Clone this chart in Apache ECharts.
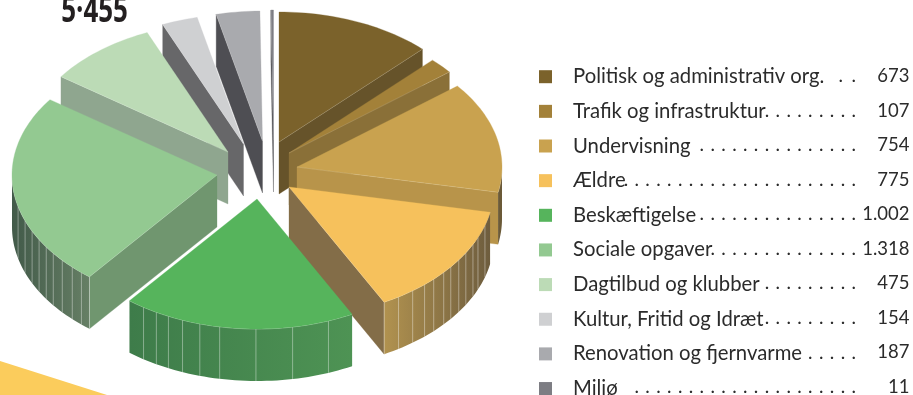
<!DOCTYPE html>
<html><head><meta charset="utf-8">
<style>html,body{margin:0;padding:0;background:#fff}#c{width:913px;height:395px}</style>
<script src="https://cdn.jsdelivr.net/npm/echarts@6/dist/echarts.min.js"></script>
</head><body><div id="c"></div>
<script>
const categories = ['Politisk og administrativ org.','Trafik og infrastruktur','Undervisning','Ældre','Beskæftigelse','Sociale opgaver','Dagtilbud og klubber','Kultur, Fritid og Idræt','Renovation og fjernvarme','Miljø'];
const values = [673,107,754,775,1002,1318,475,154,187,11];
const valueLabels = ['673','107','754','775','1.002','1.318','475','154','187','11'];
const leaderDots = [2,9,15,22,15,14,9,9,5,21];
const totalLabel = '5·455';
const topColors = ['#7b622b','#a38139','#c9a24f','#f6c15c','#56b45c','#93c991','#bcdbb6','#cfd0d2','#a9aaae','#7d7d83'];
const sideColors = ['#66532a','#8a7038','#b8944a','#836d48','#4d8f52','#70966f','#8fa68f','#676769','#4e4e53','#47474c'];
const outerShade = {2:['#6b5a38','#6b5a38'],3:['#6e5d3e','#b1924f'],4:['#4e9354','#3e7c4a'],5:['#425a49','#667f65']};
// outer-wall facet seams, degrees clockwise from 12 o'clock
const seams = {3:[107.1,112.8,116.2,120.4,124.1,127.9,131,135.1,138.6,142.9,147.7],
  4:[159.6,170,180.3,190.5,196.2,201.3,205.6,209.4,213.6],
  5:[221.4,224.9,229,233,236.4,240.2,244.4,249.4,256]};
// exploded apex of each slice (layout)
const apexX = [279,289,297,289,257,217,228,243.5,262.5,273.5];
const apexY = [142,153,167,187,199,175,152,144,141,140];
const drawOrder = [9,8,7,6,5,0,1,2,3,4];
const RX = 205, RY = 130, DEPTH = 52;

const total = values.reduce((a,b)=>a+b,0);
let acc = 0;
const spans = values.map(v=>{const s=acc/total*360; acc+=v; return [s,acc/total*360];});
const rad = d=>d*Math.PI/180;
const pt = (i,t,dz)=>[apexX[i]+RX*Math.sin(rad(t)), apexY[i]-RY*Math.cos(rad(t))+(dz||0)];
function arc(i,a,b,dz){const n=Math.max(2,Math.ceil(Math.abs(b-a)/1.5)),o=[];for(let k=0;k<=n;k++)o.push(pt(i,a+(b-a)*k/n,dz));return o;}

function renderSlice(params,api){
  const i=api.value(2), a=api.value(0), b=api.value(1), ch=[];
  const ap=[apexX[i],apexY[i]], apD=[apexX[i],apexY[i]+DEPTH];
  const poly=(pts,fill)=>ch.push({type:'polygon',shape:{points:pts},style:{fill,stroke:fill,lineWidth:0.3}});
  const seam=(t)=>ch.push({type:'line',shape:{x1:pt(i,t)[0],y1:pt(i,t)[1],x2:pt(i,t,DEPTH)[0],y2:pt(i,t,DEPTH)[1]},style:{stroke:'rgba(255,255,255,.38)',lineWidth:1}});
  if(b<=180) poly([ap,pt(i,b),pt(i,b,DEPTH),apD],sideColors[i]);
  if(a>=180) poly([ap,pt(i,a),pt(i,a,DEPTH),apD],sideColors[i]);
  const oa=Math.max(a,90), ob=Math.min(b,270);
  if(ob>oa){
    const up=arc(i,oa,ob), dn=arc(i,oa,ob,DEPTH).reverse();
    const sh=outerShade[i]||[sideColors[i],sideColors[i]];
    const fill=new echarts.graphic.LinearGradient(0,0,1,0,i===5?[{offset:0,color:sh[0]},{offset:1,color:sh[1]}]:[{offset:0,color:sh[1]},{offset:1,color:sh[0]}]);
    ch.push({type:'polygon',shape:{points:up.concat(dn)},style:{fill}});
    (seams[i]||[]).forEach(seam);
    if(i===3) seam(b);
    if(i===5) seam(a);
    ch.push({type:'polyline',shape:{points:up},style:{fill:null,stroke:'rgba(255,255,255,.4)',lineWidth:0.8}});
  }
  poly([ap].concat(arc(i,a,b)),topColors[i]);
  if(b<=180) ch.push({type:'line',shape:{x1:ap[0],y1:ap[1],x2:pt(i,b)[0],y2:pt(i,b)[1]},style:{stroke:'rgba(255,255,255,.25)',lineWidth:0.6}});
  if(a>=180) ch.push({type:'line',shape:{x1:ap[0],y1:ap[1],x2:pt(i,a)[0],y2:pt(i,a)[1]},style:{stroke:'rgba(255,255,255,.25)',lineWidth:0.6}});
  return {type:'group',children:ch};
}

const series = categories.map((name,i)=>({
  type:'custom', name, coordinateSystem:'none', renderItem:renderSlice,
  z:2+drawOrder.indexOf(i), silent:true, animation:false,
  itemStyle:{color:topColors[i]},
  data:[[spans[i][0],spans[i][1],i]]
}));

const ROW0=76, ROWH=34.55, FONT='Lato', DOTSTEP=10.85;
const graphics=[
  {type:'polygon',z:0,shape:{points:[[0,361],[107,395],[0,395]]},style:{fill:'#fbcc5c'}},
  {type:'text',z:20,x:94.5,y:12,scaleX:0.72,style:{text:totalLabel,font:'bold 36px "Open Sans"',fill:'#231f20',align:'center',verticalAlign:'middle'}}
];
categories.forEach((c,i)=>{
  const y=ROW0+ROWH*i;
  for(let k=0;k<leaderDots[i];k++){
    const step=leaderDots[i]===2?13:DOTSTEP;
    graphics.push({type:'text',z:20,x:856-step*k,y,silent:true,style:{text:'.',font:'19px '+FONT,fill:'#2b2b2b',align:'right',verticalAlign:'middle'}});
  }
  graphics.push({type:'text',z:20,x:909.5,y,style:{text:valueLabels[i],font:'18.5px '+FONT,fill:'#2b2b2b',align:'right',verticalAlign:'middle'}});
});

const chart=echarts.init(document.getElementById('c'),null,{renderer:'canvas'});
chart.setOption({
  animation:false, backgroundColor:'#fff',
  legend:{data:categories,orient:'vertical',left:539,top:66.7,height:600,itemWidth:13,itemHeight:13,itemGap:14.65,icon:'rect',selectedMode:false,padding:0,
    textStyle:{fontFamily:FONT,fontSize:20.3,color:'#2b2b2b',padding:[0,0,0,16]}},
  graphic:graphics, series
});
</script></body></html>
